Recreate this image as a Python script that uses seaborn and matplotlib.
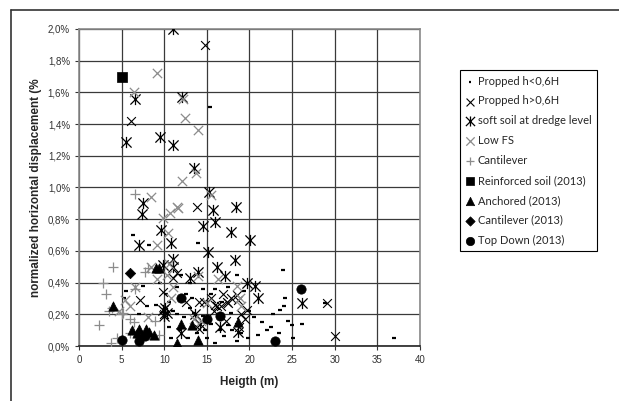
import numpy as np
import pandas as pd
import matplotlib
matplotlib.use('Agg')
import matplotlib.pyplot as plt
from matplotlib.ticker import FuncFormatter, MultipleLocator
from matplotlib.lines import Line2D
from matplotlib.path import Path
import seaborn as sns

# data: height (m), displacement (%)
propped_low_x = [15.4, 6.3, 8.2, 14.0, 23.9, 23.6, 24.0, 21.5, 22.0, 25.1, 26.2, 28.8, 37.0, 5.5, 5.3,
                 7.5, 9.5, 11.5, 12.5, 13.0, 14.5, 15.5, 16.0, 17.5, 18.5, 19.3, 11.0, 11.5, 12.3, 13.0,
                 13.5, 14.5, 15.5, 16.5, 17.0, 17.5, 18.0, 19.0, 19.8, 20.5, 21.0, 22.5, 23.5, 24.5, 25.0,
                 10.5, 10.8, 11.8, 12.8, 13.8, 15.0, 16.0, 18.5, 10.2, 9.0, 7.0, 8.0, 12.0, 14.8, 16.8,
                 20.0, 22.8, 24.2, 10.5, 13.3, 17.8]
propped_low_y = [1.51, 0.70, 0.64, 0.65, 0.48, 0.23, 0.25, 0.15, 0.10, 0.05, 0.14, 0.27, 0.05, 0.35, 0.30,
                 0.38, 0.40, 0.37, 0.33, 0.40, 0.36, 0.33, 0.36, 0.37, 0.45, 0.35, 0.22, 0.20, 0.18, 0.24,
                 0.21, 0.19, 0.14, 0.10, 0.06, 0.13, 0.10, 0.08, 0.05, 0.18, 0.07, 0.12, 0.08, 0.16, 0.13,
                 0.12, 0.05, 0.10, 0.05, 0.08, 0.05, 0.02, 0.03, 0.33, 0.26, 0.20, 0.25, 0.45, 0.10, 0.28,
                 0.22, 0.20, 0.30, 0.28, 0.30, 0.21]

propped_high_x = [14.8, 6.1, 13.8, 7.1, 11.0, 9.8, 14.1, 14.7, 16.6, 17.5, 19.7, 17.2, 19.5, 14.1, 29.1,
                  30.0, 15.5, 16.0, 18.5, 12.5, 15.8, 19.0, 17.8, 11.5, 18.8, 10.0, 16.9, 17.4, 18.6, 16.2]
propped_high_y = [1.90, 1.42, 0.88, 0.29, 0.43, 0.34, 0.28, 0.28, 0.25, 0.27, 0.23, 0.16, 0.17, 0.11, 0.27,
                  0.06, 0.30, 0.26, 0.32, 0.28, 0.22, 0.20, 0.30, 0.46, 0.12, 0.20, 0.33, 0.28, 0.29, 0.25]

soft_x = [11.0, 6.6, 5.5, 9.5, 11.0, 12.1, 13.5, 15.2, 7.5, 7.4, 7.0, 9.6, 10.8, 15.7, 14.6, 16.0, 18.4,
          17.8, 20.1, 15.1, 18.3, 16.2, 14.0, 13.0, 17.1, 19.7, 20.6, 21.0, 26.1, 11.0, 9.8, 10.1, 11.0,
          18.6, 13.6, 10.3, 10.0, 14.2, 16.5, 12.0, 9.9]
soft_y = [2.00, 1.56, 1.29, 1.32, 1.27, 1.57, 1.12, 0.97, 0.90, 0.83, 0.64, 0.73, 0.65, 0.86, 0.76, 0.78, 0.88,
          0.72, 0.67, 0.59, 0.54, 0.50, 0.47, 0.43, 0.44, 0.40, 0.38, 0.30, 0.27, 0.55, 0.51, 0.24, 0.50,
          0.09, 0.20, 0.21, 0.19, 0.14, 0.12, 0.08, 0.23]

lowfs_x = [9.1, 6.4, 12.2, 12.4, 14.0, 13.7, 12.1, 15.5, 8.5, 10.7, 11.5, 9.9, 9.1, 10.4, 10.6, 9.1, 8.4,
           6.6, 5.4, 4.7, 8.1, 14.0, 18.9, 19.0, 14.3, 15.0, 16.3, 11.0, 10.3, 13.5, 6.0, 10.8, 18.5, 11.6]
lowfs_y = [1.72, 1.60, 1.56, 1.44, 1.36, 1.09, 1.04, 0.95, 0.94, 0.84, 0.88, 0.81, 0.64, 0.71, 0.52, 0.42, 0.50,
           0.37, 0.29, 0.22, 0.18, 0.44, 0.30, 0.25, 0.16, 0.27, 0.42, 0.37, 0.45, 0.17, 0.25, 0.30, 0.38, 0.87]

cant_x = [6.6, 4.0, 2.8, 3.2, 2.3, 3.8, 6.6, 6.0, 8.1, 8.9, 6.0, 3.5, 5.0, 9.4, 6.5, 5.2, 4.4, 7.8, 3.9]
cant_y = [0.96, 0.50, 0.40, 0.33, 0.13, 0.02, 0.36, 0.17, 0.49, 0.16, 0.08, 0.22, 0.20, 0.07, 0.15, 0.21,
          0.05, 0.47, 0.24]

reinf_x = [5.0]
reinf_y = [1.70]

anch_x = [4.0, 9.0, 9.4, 6.2, 6.8, 7.0, 7.9, 8.8, 7.4, 11.5, 12.0, 13.2, 14.0, 18.7, 8.2]
anch_y = [0.25, 0.49, 0.49, 0.10, 0.08, 0.11, 0.11, 0.07, 0.07, 0.02, 0.14, 0.13, 0.04, 0.15, 0.09]

cant13_x = [6.0]
cant13_y = [0.46]

topdown_x = [5.1, 7.0, 7.7, 12.0, 15.0, 16.5, 23.0, 26.0]
topdown_y = [0.04, 0.03, 0.06, 0.30, 0.17, 0.19, 0.03, 0.36]

sns.set_style('white')
plt.rcParams['font.family'] = ['Liberation Sans', 'DejaVu Sans']

# X with a vertical bar, like the excel "star" marker
xbar = Path([(-1, -1), (1, 1), (-1, 1), (1, -1), (0, -1.1), (0, 1.1)],
            [Path.MOVETO, Path.LINETO, Path.MOVETO, Path.LINETO, Path.MOVETO, Path.LINETO])

fig = plt.figure(figsize=(6.19, 4.01), dpi=100)
ax = fig.add_axes([79 / 619, 1 - 346 / 401, 341 / 619, 317 / 401])

gray = '#8c8c8c'
series = [
    (propped_low_x, propped_low_y, 'Propped h<0,6H', '_', 'black', 5, 1.6),
    (propped_high_x, propped_high_y, 'Propped h>0,6H', 'x', 'black', 40, 0.8),
    (soft_x, soft_y, 'soft soil at dredge level', xbar, 'black', 65, 0.9),
    (lowfs_x, lowfs_y, 'Low FS', 'x', gray, 45, 0.9),
    (cant_x, cant_y, 'Cantilever', '+', gray, 50, 0.9),
    (reinf_x, reinf_y, 'Reinforced soil (2013)', 's', 'black', 45, 0.5),
    (anch_x, anch_y, 'Anchored (2013)', '^', 'black', 45, 0.5),
    (cant13_x, cant13_y, 'Cantilever (2013)', 'D', 'black', 28, 0.5),
    (topdown_x, topdown_y, 'Top Down (2013)', 'o', 'black', 45, 0.5),
]

for xs, ys, lab, mk, col, size, lw in series:
    df = pd.DataFrame({'h': xs, 'd': ys})
    sns.scatterplot(data=df, x='h', y='d', marker=mk, color=col, edgecolor=col,
                    s=size, linewidth=lw, ax=ax, label=lab, zorder=3)

ax.set_xlim(0, 40)
ax.set_ylim(0, 2.0)
ax.xaxis.set_major_locator(MultipleLocator(5))
ax.yaxis.set_major_locator(MultipleLocator(0.2))
ax.yaxis.set_major_formatter(FuncFormatter(lambda v, p: f'{v:.1f}%'.replace('.', ',')))
ax.grid(True, color='#3a3a3a', linewidth=0.9, zorder=0)
ax.set_axisbelow(True)
for s in ax.spines.values():
    s.set_color('#8a8a8a')
    s.set_linewidth(1.2)
ax.spines['bottom'].set_color('#222222')
ax.tick_params(axis='both', labelsize=7, colors='#333333', length=3, width=0.8,
               left=True, bottom=True, direction='out')
ax.set_xlabel('Heigth (m)', fontsize=8.5, fontweight='bold', labelpad=8)
ax.set_ylabel('normalized horizontal displacement (%', fontsize=8.5, fontweight='bold', labelpad=4)

handles, labels = ax.get_legend_handles_labels()
ax.legend_.remove()
leg = fig.legend(handles, labels, loc='upper left', bbox_to_anchor=(460 / 619, 1 - 70 / 401),
                 frameon=True, fancybox=False, framealpha=1, edgecolor='black',
                 prop={'family': 'Lato', 'size': 8}, handlelength=0.8, handletextpad=0.3,
                 labelspacing=0.8, borderpad=0.5, borderaxespad=0, markerscale=0.9)
leg.get_frame().set_linewidth(0.8)

# outer frame lines (top and left)
fig.add_artist(Line2D([11 / 619, 1], [1 - 10 / 401, 1 - 10 / 401], color='#333333', lw=1.2))
fig.add_artist(Line2D([11 / 619, 11 / 619], [0, 1 - 10 / 401], color='#333333', lw=1.2))

fig.savefig('out.png', dpi=100)
